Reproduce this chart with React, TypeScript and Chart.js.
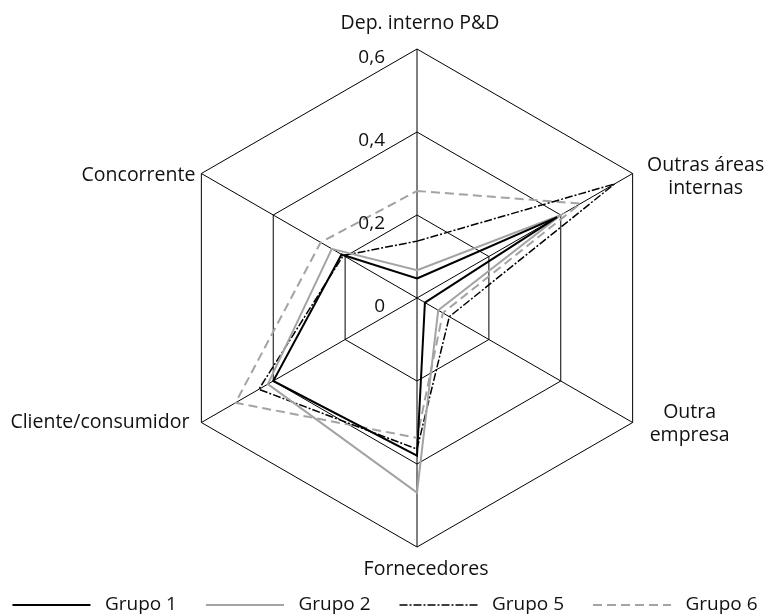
import { useEffect, useRef } from 'react';
import { Chart, registerables } from 'chart.js';

Chart.register(...registerables);

// ---------- data ----------
const categories: string[][] = [
  ['Dep. interno P&D'],
  ['Outras áreas', 'internas'],
  ['Outra', 'empresa'],
  ['Fornecedores'],
  ['Cliente/consumidor'],
  ['Concorrente'],
];
const seriesNames = ['Grupo 1', 'Grupo 2', 'Grupo 5', 'Grupo 6'];
const grupo1 = [0.047, 0.39, 0.022, 0.38, 0.4, 0.21];
const grupo2 = [0.067, 0.4, 0.059, 0.469, 0.415, 0.237];
const grupo5 = [0.137, 0.55, 0.09, 0.364, 0.44, 0.205];
const grupo6 = [0.258, 0.455, 0.072, 0.337, 0.505, 0.268];
const tickValues = [0, 0.2, 0.4, 0.6];
const tickLabels = ['0', '0,2', '0,4', '0,6'];

// ---------- layout / style ----------
const W = 770;
const H = 616;
const CX = 417;
const CY = 298;
const R = 249;
const FONT = '"Open Sans", "Noto Sans", sans-serif';
const FS = 19;
const LABEL_FS = 19.5;
const TEXT = '#111111';
const GRAY = '#a3a3a3';
const LINE_H = 23;
const TICK_DX = -32;
const TICK_DY = 14;
const LABEL_POS = [
  { dx: 3, dy: -20, align: 'center' },
  { dx: 73, dy: -3, align: 'center' },
  { dx: 57, dy: -5, align: 'center' },
  { dx: 9, dy: 28, align: 'center' },
  { dx: -12, dy: 5, align: 'right' },
  { dx: -6, dy: 7, align: 'right' },
];

const labelPlugin = {
  id: 'customRadarText',
  afterDraw(chart: any) {
    const scale = chart.scales.r;
    const ctx = chart.ctx as CanvasRenderingContext2D;
    ctx.save();
    ctx.fillStyle = TEXT;
    ctx.textBaseline = 'alphabetic';
    ctx.font = `${LABEL_FS}px ${FONT}`;
    categories.forEach((lines, i) => {
      const p = scale.getPointPosition(i, scale.drawingArea);
      const o = LABEL_POS[i];
      ctx.textAlign = o.align as CanvasTextAlign;
      lines.forEach((line, j) => {
        ctx.fillText(line, p.x + o.dx, p.y + o.dy + j * LINE_H);
      });
    });
    ctx.font = `${FS}px ${FONT}`;
    ctx.textAlign = 'right';
    tickValues.forEach((v, k) => {
      const d = scale.getDistanceFromCenterForValue(v);
      ctx.fillText(tickLabels[k], scale.xCenter + TICK_DX, scale.yCenter - d + TICK_DY);
    });
    ctx.restore();
  },
};

export default function App() {
  const ref = useRef<HTMLCanvasElement | null>(null);
  useEffect(() => {
    if (!ref.current) return;
    const chart = new Chart(ref.current, {
      type: 'radar',
      data: {
        labels: categories,
        datasets: [
          { label: seriesNames[0], data: grupo1, borderColor: '#000000', borderWidth: 2, borderDash: [] },
          { label: seriesNames[1], data: grupo2, borderColor: GRAY, borderWidth: 2, borderDash: [] },
          { label: seriesNames[2], data: grupo5, borderColor: '#000000', borderWidth: 1.5, borderDash: [8, 2, 2, 2] },
          { label: seriesNames[3], data: grupo6, borderColor: GRAY, borderWidth: 2, borderDash: [9, 5] },
        ].map((d) => ({
          ...d,
          fill: false,
          backgroundColor: 'rgba(0,0,0,0)',
          pointRadius: 0,
          pointHoverRadius: 0,
          tension: 0,
        })),
      },
      options: {
        responsive: false,
        animation: false,
        devicePixelRatio: 1,
        layout: { padding: { left: -30, right: -30, top: 0, bottom: -8.5 } },
        scales: {
          r: {
            min: 0,
            max: 0.6,
            ticks: { stepSize: 0.2, display: false },
            pointLabels: { display: false },
            grid: { color: '#000000', lineWidth: 1 },
            angleLines: { color: '#000000', lineWidth: 1 },
            afterFit: (s: any) => {
              s.xCenter = CX;
              s.yCenter = CY;
              s.drawingArea = R;
            },
          },
        },
        plugins: {
          tooltip: { enabled: false },
          legend: {
            position: 'bottom',
            labels: {
              usePointStyle: true,
              pointStyle: 'line',
              pointStyleWidth: 78,
              padding: 29,
              color: TEXT,
              font: { family: FONT, size: FS },
              generateLabels: (c: any) =>
                Chart.defaults.plugins.legend.labels.generateLabels(c).map((l: any) => {
                  const ds = c.data.datasets[l.datasetIndex];
                  return {
                    ...l,
                    text: ' ' + l.text,
                    strokeStyle: ds.borderColor,
                    lineWidth: ds.borderWidth,
                    lineDash: ds.borderDash,
                  };
                }),
            },
          },
        },
      } as any,
      plugins: [labelPlugin],
    });
    return () => chart.destroy();
  }, []);
  return (
    <div style={{ position: 'fixed', left: 0, top: 0, width: W, height: H, background: '#ffffff' }}>
      <canvas ref={ref} width={W} height={H} style={{ display: 'block' }} />
    </div>
  );
}
